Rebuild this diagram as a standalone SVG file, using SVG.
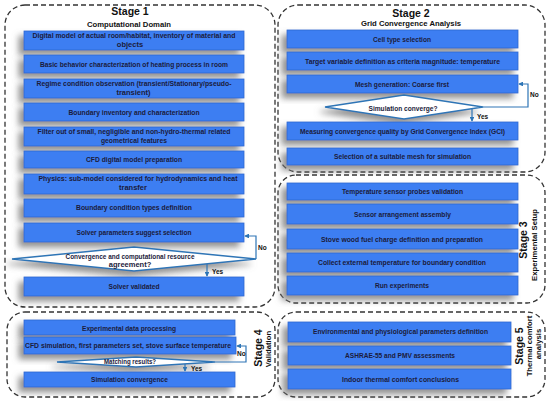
<svg xmlns="http://www.w3.org/2000/svg" width="550" height="402" viewBox="0 0 550 402">
<style>
.stage{fill:none;stroke:#333;stroke-width:1.3;stroke-dasharray:5 3}
.box{fill:#3d7ef2;stroke:#2f68cf;stroke-width:0.8}
.dia{fill:#fff;stroke:#2e75b6;stroke-width:1.5}
.t{font-family:"Liberation Sans",Arial,sans-serif;font-weight:bold;font-size:7.5px;fill:#1b1b3b;text-anchor:middle}
.h{font-family:"Liberation Sans",Arial,sans-serif;font-weight:bold;font-size:10.5px;fill:#111;text-anchor:middle}
.s{font-family:"Liberation Sans",Arial,sans-serif;font-weight:bold;font-size:7.7px;fill:#111;text-anchor:middle}
.c{fill:none;stroke:#2e75b6;stroke-width:1.2}
.lb{font-family:"Liberation Sans",Arial,sans-serif;font-weight:bold;font-size:6.5px;fill:#111}
</style>
<defs>
<filter id="sh" x="-10%" y="-40%" width="120%" height="200%">
<feDropShadow dx="-5" dy="5" stdDeviation="3" flood-color="#777" flood-opacity="0.8"/>
</filter>
<marker id="ar" viewBox="0 0 6 6" refX="5" refY="3" markerWidth="4" markerHeight="4" orient="auto">
<path d="M0,0 L6,3 L0,6 z" fill="#2e75b6"/>
</marker>
</defs>

<g id="stage1">
<rect class="stage" x="5" y="5" width="270" height="302" rx="20"/>
<text class="h" x="130" y="15">Stage 1</text>
<text class="s" x="129" y="27">Computational Domain</text>
</g>
<g id="stage2">
<rect class="stage" x="278" y="5" width="267" height="167" rx="20"/>
<text class="h" x="411" y="17">Stage 2</text>
<text class="s" x="411" y="25.5">Grid Convergence Analysis</text>
</g>
<g id="stage3">
<rect class="stage" x="278" y="175" width="267" height="128" rx="18"/>
<text class="h" x="527" y="240" transform="rotate(-90 527 240)">Stage 3</text>
<text class="s" x="537" y="245" transform="rotate(-90 537 245)">Experimental Setup</text>
</g>
<g id="stage4">
<rect class="stage" x="7" y="312" width="268" height="85" rx="18"/>
<text class="h" x="262" y="348" transform="rotate(-90 262 348)">Stage 4</text>
<text class="s" x="271" y="349" transform="rotate(-90 271 349)">Validation</text>
</g>
<g id="stage5">
<rect class="stage" x="278" y="312" width="267" height="85" rx="18"/>
<text class="h" x="523" y="346" transform="rotate(-90 523 346)">Stage 5</text>
<text class="s" x="532" y="346" transform="rotate(-90 532 346)">Thermal comfort</text>
<text class="s" x="541" y="344" transform="rotate(-90 541 344)">analysis</text>
</g>

<!-- Stage 1 nodes -->
<g id="n1_1"><rect class="box" x="24" y="31" width="220" height="19" filter="url(#sh)"/>
<text class="t" x="134" y="38.3" textLength="203" lengthAdjust="spacingAndGlyphs">Digital model of actual room/habitat, inventory of material and</text>
<text class="t" x="130" y="47">objects</text></g>
<g id="n1_2"><rect class="box" x="24" y="55" width="220" height="18" filter="url(#sh)"/>
<text class="t" x="134" y="66.5" textLength="188" lengthAdjust="spacingAndGlyphs">Basic behavior characterization of heating process in room</text></g>
<g id="n1_3"><rect class="box" x="24" y="79" width="220" height="19" filter="url(#sh)"/>
<text class="t" x="134" y="86" textLength="195" lengthAdjust="spacingAndGlyphs">Regime condition observation (transient/Stationary/pseudo-</text>
<text class="t" x="133.5" y="95">transient)</text></g>
<g id="n1_4"><rect class="box" x="24" y="103" width="220" height="18" filter="url(#sh)"/>
<text class="t" x="134" y="115" textLength="131" lengthAdjust="spacingAndGlyphs">Boundary inventory and characterization</text></g>
<g id="n1_5"><rect class="box" x="24" y="127" width="220" height="19" filter="url(#sh)"/>
<text class="t" x="134" y="134" textLength="193" lengthAdjust="spacingAndGlyphs">Filter out of small, negligible and non-hydro-thermal related</text>
<text class="t" x="134" y="143.3" textLength="66" lengthAdjust="spacingAndGlyphs">geometrical features</text></g>
<g id="n1_6"><rect class="box" x="24" y="151" width="220" height="17" filter="url(#sh)"/>
<text class="t" x="134" y="162.3" textLength="96" lengthAdjust="spacingAndGlyphs">CFD digital model preparation</text></g>
<g id="n1_7"><rect class="box" x="24" y="174" width="220" height="20" filter="url(#sh)"/>
<text class="t" x="138" y="181" textLength="199" lengthAdjust="spacingAndGlyphs">Physics: sub-model considered for hydrodynamics and heat</text>
<text class="t" x="133" y="190.3">transfer</text></g>
<g id="n1_8"><rect class="box" x="24" y="199" width="220" height="18" filter="url(#sh)"/>
<text class="t" x="134" y="210.3" textLength="116" lengthAdjust="spacingAndGlyphs">Boundary condition types definition</text></g>
<g id="n1_9"><rect class="box" x="24" y="223" width="220" height="19" filter="url(#sh)"/>
<text class="t" x="134" y="234.6" textLength="115" lengthAdjust="spacingAndGlyphs">Solver parameters suggest selection</text></g>
<g id="d1"><polygon class="dia" points="12,259 134,247 256,259 134,271" filter="url(#sh)"/>
<text class="t" x="130" y="258.5" textLength="129" lengthAdjust="spacingAndGlyphs">Convergence and computational resource</text>
<text class="t" x="130" y="267">agreement?</text></g>
<g id="n1_10"><rect class="box" x="24" y="277" width="220" height="19" filter="url(#sh)"/>
<text class="t" x="134" y="289.3" textLength="51" lengthAdjust="spacingAndGlyphs">Solver validated</text></g>

<!-- Stage 2 nodes -->
<g id="n2_1"><rect class="box" x="287" y="30" width="231" height="18" filter="url(#sh)"/>
<text class="t" x="402" y="42" textLength="58" lengthAdjust="spacingAndGlyphs">Cell type selection</text></g>
<g id="n2_2"><rect class="box" x="287" y="52" width="231" height="18" filter="url(#sh)"/>
<text class="t" x="402.5" y="63.6" textLength="195" lengthAdjust="spacingAndGlyphs">Target variable definition as criteria magnitude: temperature</text></g>
<g id="n2_3"><rect class="box" x="287" y="75" width="231" height="18" filter="url(#sh)"/>
<text class="t" x="402" y="86.6" textLength="94" lengthAdjust="spacingAndGlyphs">Mesh generation: Coarse first</text></g>
<g id="d2"><polygon class="dia" points="325,107 404,95 483,107 404,119" filter="url(#sh)"/>
<text class="t" x="403" y="110.5" textLength="69" lengthAdjust="spacingAndGlyphs">Simulation converge?</text></g>
<g id="n2_4"><rect class="box" x="287" y="122" width="231" height="18" filter="url(#sh)"/>
<text class="t" x="402.5" y="134.3" textLength="205" lengthAdjust="spacingAndGlyphs">Measuring convergence quality by Grid Convergence Index (GCI)</text></g>
<g id="n2_5"><rect class="box" x="287" y="148" width="231" height="17" filter="url(#sh)"/>
<text class="t" x="402.5" y="159.3" textLength="137" lengthAdjust="spacingAndGlyphs">Selection of a suitable mesh for simulation</text></g>

<!-- Stage 3 nodes -->
<g id="n3_1"><rect class="box" x="287" y="183" width="231" height="17" filter="url(#sh)"/>
<text class="t" x="402.5" y="194.3" textLength="121" lengthAdjust="spacingAndGlyphs">Temperature sensor probes validation</text></g>
<g id="n3_2"><rect class="box" x="287" y="204" width="231" height="20" filter="url(#sh)"/>
<text class="t" x="402.5" y="217" textLength="97" lengthAdjust="spacingAndGlyphs">Sensor arrangement assembly</text></g>
<g id="n3_3"><rect class="box" x="287" y="229" width="231" height="20" filter="url(#sh)"/>
<text class="t" x="402" y="241.6" textLength="162" lengthAdjust="spacingAndGlyphs">Stove wood fuel charge definition and preparation</text></g>
<g id="n3_4"><rect class="box" x="287" y="253" width="231" height="19" filter="url(#sh)"/>
<text class="t" x="402" y="265" textLength="168" lengthAdjust="spacingAndGlyphs">Collect external temperature for boundary condition</text></g>
<g id="n3_5"><rect class="box" x="287" y="276" width="231" height="19" filter="url(#sh)"/>
<text class="t" x="402" y="288.3" textLength="54" lengthAdjust="spacingAndGlyphs">Run experiments</text></g>

<!-- Stage 4 nodes -->
<g id="n4_1"><rect class="box" x="24" y="320" width="211" height="15" filter="url(#sh)"/>
<text class="t" x="129" y="330.5" textLength="94" lengthAdjust="spacingAndGlyphs">Experimental data processing</text></g>
<g id="n4_2"><rect class="box" x="24" y="337" width="212" height="17" filter="url(#sh)"/>
<text class="t" x="128" y="348.3" textLength="206" lengthAdjust="spacingAndGlyphs">CFD simulation, first parameters set, stove surface temperature</text></g>
<g id="d4"><polygon class="dia" points="57,362 136,357 215,362 136,367" filter="url(#sh)"/>
<text class="t" x="130" y="364.3" textLength="52" lengthAdjust="spacingAndGlyphs">Matching results?</text></g>
<g id="n4_3"><rect class="box" x="24" y="372" width="211" height="15" filter="url(#sh)"/>
<text class="t" x="129.5" y="382.3" textLength="77" lengthAdjust="spacingAndGlyphs">Simulation convergence</text></g>

<!-- Stage 5 nodes -->
<g id="n5_1"><rect class="box" x="288" y="322" width="223" height="20" filter="url(#sh)"/>
<text class="t" x="400.5" y="334.3" textLength="175" lengthAdjust="spacingAndGlyphs">Environmental and physiological parameters definition</text></g>
<g id="n5_2"><rect class="box" x="288" y="346" width="223" height="19" filter="url(#sh)"/>
<text class="t" x="400" y="358.3" textLength="110" lengthAdjust="spacingAndGlyphs">ASHRAE-55 and PMV assessments</text></g>
<g id="n5_3"><rect class="box" x="288" y="369" width="223" height="20" filter="url(#sh)"/>
<text class="t" x="400.5" y="382" textLength="117" lengthAdjust="spacingAndGlyphs">Indoor thermal comfort  conclusions</text></g>

<g id="connectors">
<polyline class="c" points="256,259 256,236 245,236" marker-end="url(#ar)"/>
<line class="c" x1="207" y1="264" x2="207" y2="276" marker-end="url(#ar)"/>
<text class="lb" x="258" y="250">No</text>
<text class="lb" x="212" y="274">Yes</text>

<polyline class="c" points="483,107 528,107 528,84 519,84" marker-end="url(#ar)"/>
<line class="c" x1="472" y1="109" x2="472" y2="121" marker-end="url(#ar)"/>
<text class="lb" x="530" y="97">No</text>
<text class="lb" x="477" y="118.5">Yes</text>

<polyline class="c" points="215,362 246,362 246,346 237,346" marker-end="url(#ar)"/>
<line class="c" x1="185" y1="364" x2="185" y2="371" marker-end="url(#ar)"/>
<text class="lb" x="237" y="356">No</text>
<text class="lb" x="191" y="370.5">Yes</text>
</g>
</svg>
